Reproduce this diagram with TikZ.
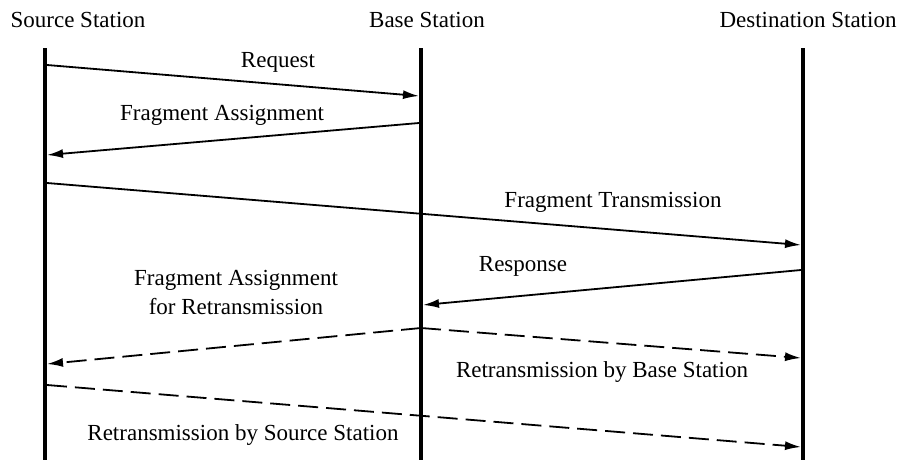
\documentclass[tikz,border=0pt]{standalone}
\usepackage{fontspec}
\setmainfont{Liberation Serif}
\usetikzlibrary{arrows.meta}
\begin{document}
\begin{tikzpicture}[x=1pt,y=-1pt,
  lifeline/.style={line width=4.5pt},
  msg/.style={line width=1.8pt,-{Latex[length=16pt,width=9pt]}},
  dmsg/.style={msg,dash pattern=on 20pt off 8pt},
  title/.style={font=\fontsize{23}{26}\selectfont,inner sep=0pt,anchor=base},
  lbl/.style={font=\fontsize{23}{29}\selectfont,inner sep=0pt,align=center,anchor=base}]
\useasboundingbox (0,0) rectangle (905,466);
% lifelines
\coordinate (sT) at (45,48);  \coordinate (sB) at (45,460);
\coordinate (bT) at (421,48); \coordinate (bB) at (421,460);
\coordinate (dT) at (803,48); \coordinate (dB) at (803,460);
\draw[lifeline] (sT) -- (sB);
\draw[lifeline] (bT) -- (bB);
\draw[lifeline] (dT) -- (dB);
% titles
\node[title] (ts) at (78,27) {Source Station};
\node[title] (tb) at (427,27) {Base Station};
\node[title] (td) at (808,27) {Destination Station};
% message endpoints
\coordinate (s1) at (47,65);   \coordinate (b1) at (419,96);
\coordinate (b2) at (419,123); \coordinate (s2) at (47,155);
\coordinate (s3) at (47,183);  \coordinate (d3) at (801,245);
\coordinate (d4) at (801,270); \coordinate (b4) at (423,305);
\coordinate (b5) at (421,328); \coordinate (s5) at (47,364);
\coordinate (d6) at (801,358);
\coordinate (s7) at (47,385);  \coordinate (d7) at (801,447);
\draw[msg] (s1) -- (b1);
\draw[msg] (b2) -- (s2);
\draw[msg] (s3) -- (d3);
\draw[msg] (d4) -- (b4);
\draw[dmsg] (b5) -- (s5);
\draw[dmsg] (b5) -- (d6);
\draw[dmsg] (s7) -- (d7);
% labels
\node[lbl] (l1) at (278,67) {Request};
\node[lbl] (l2) at (222,120) {Fragment Assignment};
\node[lbl] (l3) at (613,207) {Fragment Transmission};
\node[lbl] (l4) at (523,271) {Response};
\node[lbl] (l5) at (236,314) {Fragment Assignment\\for Retransmission};
\node[lbl] (l6) at (602,377) {Retransmission by Base Station};
\node[lbl] (l7) at (243,440) {Retransmission by Source Station};
\end{tikzpicture}
\end{document}
